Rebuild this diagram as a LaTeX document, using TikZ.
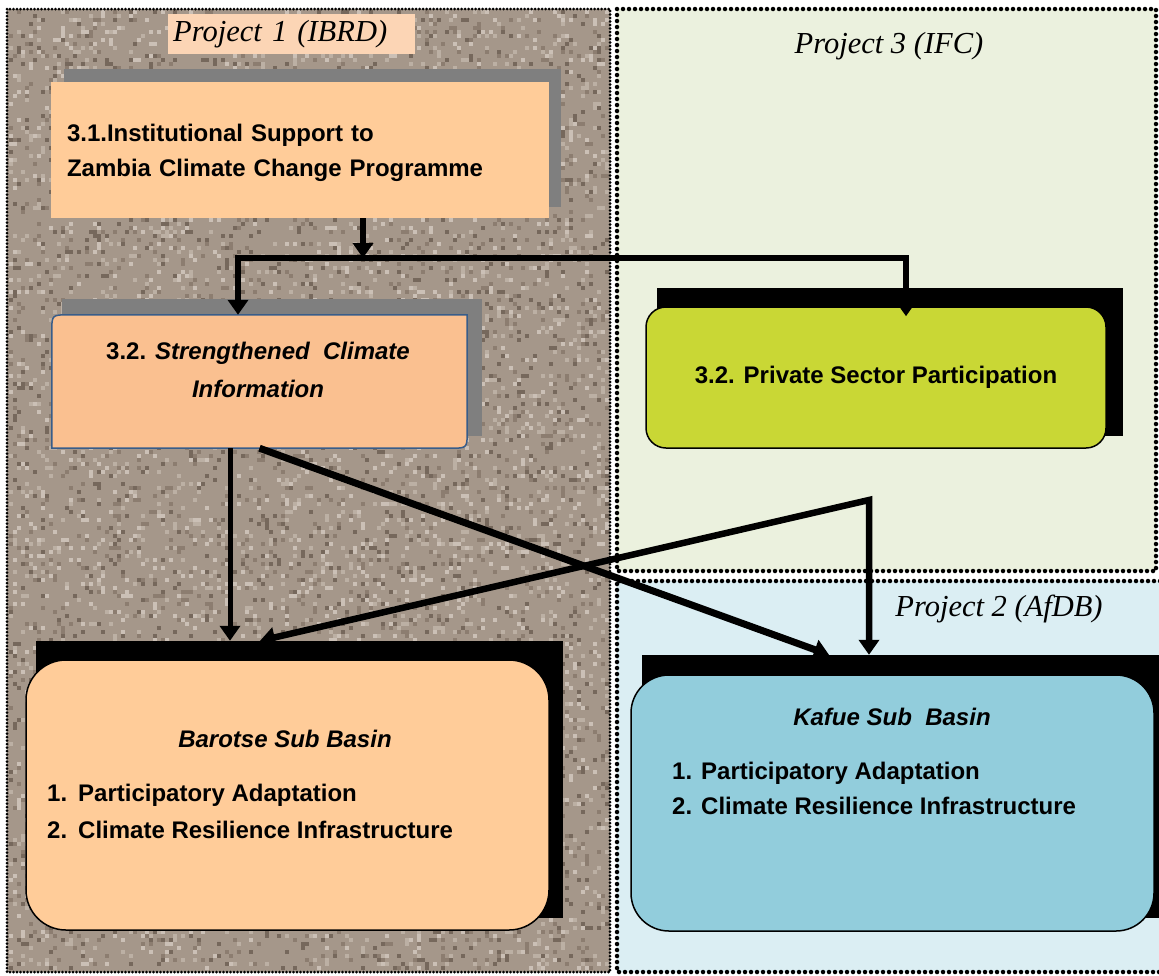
\documentclass[tikz,border=0pt]{standalone}
\usepackage{fontspec}
\setmainfont{Liberation Sans}
\newfontfamily\projfont{Liberation Serif}
\usetikzlibrary{arrows.meta}

% fills
\definecolor{peach}{HTML}{FFCC99}
\definecolor{peachdark}{HTML}{FAC090}
\definecolor{peachlabel}{HTML}{FCD5B5}
\definecolor{navyedge}{HTML}{385D8A}
\definecolor{shadowgray}{HTML}{7F7F7F}
\definecolor{psgreen}{HTML}{C9D735}
\definecolor{kafblue}{HTML}{92CDDC}
\definecolor{ifcbg}{HTML}{EBF1DE}
\definecolor{afdbbg}{HTML}{DBEEF3}
% granite texture
\definecolor{granite}{HTML}{A5978A}
\definecolor{tx1}{HTML}{BCB0A4}
\definecolor{tx2}{HTML}{CBC0B6}
\definecolor{tx3}{HTML}{8C7D70}
\definecolor{tx4}{HTML}{76685C}

\begin{document}
\begin{tikzpicture}[x=1pt,y=-1pt,
  conn/.style={line width=6pt, line join=miter, -{Triangle[width=20pt,length=15pt]}},
  twoway/.style={line width=6.5pt, line join=miter,
    {Triangle[width=20pt,length=15pt]}-{Triangle[width=20pt,length=15pt]}},
  boxtext/.style={font=\fontsize{24}{34}\selectfont\bfseries, inner sep=0pt},
  titletext/.style={font=\fontsize{24}{34}\selectfont\bfseries\itshape, inner sep=0pt},
  projlabel/.style={font=\projfont\itshape\fontsize{30.5}{36}\selectfont, inner sep=0pt},
  shadowbox/.style={inner sep=0pt, draw=none},
  finedots/.style={draw=black, line width=3pt, line cap=round, dash pattern=on 0pt off 3.5pt},
  bigdots/.style={draw=black, line width=4.5pt, line cap=round, dash pattern=on 0pt off 6pt}
]
\useasboundingbox (0,0) rectangle (1159,975);
\fill[white] (0,0) rectangle (1159,975);

% ---- Project 1 panel with granite texture ----
\fill[granite] (7,9) rectangle (610,972);
\pgfmathsetseed{41}
\foreach \k in {1,...,8000}{
  \pgfmathrandominteger{\gx}{0}{149}
  \pgfmathrandominteger{\gy}{0}{239}
  \pgfmathrandominteger{\gc}{1}{4}
  \fill[fill=tx\gc] (9+\gx*4,10+\gy*4) rectangle ++(4,4);
}
\draw[finedots] (7,9) rectangle (610,972);

% ---- Project 3 and Project 2 panels ----
\fill[ifcbg] (617,9) rectangle (1156,571);
\draw[bigdots] (617,9) rectangle (1156,571);
\fill[afdbbg] (617,581) rectangle (1166,972);
\draw[bigdots] (1166,581) -- (617,581) -- (617,972) -- (1166,972);

% ---- project labels ----
\node[fill=peachlabel, minimum width=247pt, minimum height=40pt, inner xsep=5pt,
      text width=237pt, align=left, anchor=west, projlabel] (lab1) at (168,34) {Project 1 (IBRD)};
\node[projlabel] (lab3) at (889,46) {Project 3 (IFC)};
\node[projlabel] (lab2) at (999,609) {Project 2 (AfDB)};

% ---- shadows ----
\node[shadowbox, fill=shadowgray, minimum width=497pt, minimum height=138pt] (sh31) at (312.5,138) {};
\node[shadowbox, fill=shadowgray, minimum width=420pt, minimum height=137pt] (sh32) at (272,367.5) {};
\node[shadowbox, fill=black, minimum width=466pt, minimum height=148pt] (shps) at (890,362) {};
\node[shadowbox, fill=black, minimum width=527pt, minimum height=277pt] (shbar) at (299.5,779.5) {};
\node[shadowbox, fill=black, minimum width=523pt, minimum height=263pt] (shkaf) at (903.5,786.5) {};

% ---- 3.1 Institutional support ----
\node[fill=peach, minimum width=498pt, minimum height=136pt, inner sep=0pt] (b31) at (300,150) {};
\node[boxtext, text width=466pt, align=left, font=\fontsize{24}{35}\selectfont\bfseries] (t31) at (300,153)
  {3.1.Institutional Support to\\Zambia Climate Change Programme};

% ---- 3.2 Strengthened climate information (diagonal rounded corners) ----
\node[minimum width=415pt, minimum height=133pt, inner sep=0pt] (b32) at (259.5,381.5) {};
\filldraw[fill=peachdark, draw=navyedge, line width=1.5pt]
  (b32.north east) -- ([yshift=17pt]b32.south east)
  .. controls (b32.south east) .. ([xshift=-17pt]b32.south east)
  -- (b32.south west) -- ([yshift=-17pt]b32.north west)
  .. controls (b32.north west) .. ([xshift=17pt]b32.north west) -- cycle;
\node[boxtext] (t32a) at (258,353) {3.2. \textit{Strengthened\ \ Climate}};
\node[titletext] (t32b) at (258,389) {Information};

% ---- 3.2 Private sector participation ----
\node[draw=black, line width=1.5pt, fill=psgreen, rounded corners=20pt,
      minimum width=460pt, minimum height=141pt, boxtext] (bps) at (876,377.5)
  {3.2. Private Sector\ Participation};

% ---- Barotse sub basin ----
\node[draw=black, line width=1.5pt, fill=peach, rounded corners=40pt,
      minimum width=523pt, minimum height=270pt] (bbar) at (287.5,795) {};
\node[titletext] (tbar) at (285,739) {Barotse Sub Basin};
\node[boxtext, anchor=west] (bar1) at (47,795) {\makebox[31pt][l]{1.}Participatory Adaptation};
\node[boxtext, anchor=west] (bar2) at (47,830) {\makebox[31pt][l]{2.}Climate Resilience Infrastructure};

% ---- Kafue sub basin ----
\node[draw=black, line width=1.5pt, fill=kafblue, rounded corners=38pt,
      minimum width=523pt, minimum height=256pt] (bkaf) at (892.5,803) {};
\node[titletext] (tkaf) at (892,717) {Kafue Sub\ \ Basin};
\node[boxtext, anchor=west] (kaf1) at (672,773) {\makebox[29pt][l]{1.}Participatory Adaptation};
\node[boxtext, anchor=west] (kaf2) at (672,806) {\makebox[29pt][l]{2.}Climate Resilience Infrastructure};

% ---- connectors ----
\coordinate (j)  at (363,258);
\coordinate (jl) at (238,258);
\coordinate (jr) at (906,258);
\coordinate (xA) at (829,600);
\coordinate (xB) at (260,600);
\coordinate (xC) at (230,600);
\coordinate (ps) at (869,500);

\draw[conn] (b31.south -| j) -- (j);
\draw[conn] (j) -- (jl) -- (b32.north -| jl);
\draw[conn] (j) -- (jr) -- ([yshift=-10pt]bps.north -| jr);
\draw[conn, line width=5pt] (b32.south -| xC) -- (shbar.north -| xC);
\draw[conn, line width=7pt] (b32.south) -- (shkaf.north -| xA);
\draw[twoway] (shbar.north -| xB) -- (ps) -- (shkaf.north -| ps);
\end{tikzpicture}
\end{document}
